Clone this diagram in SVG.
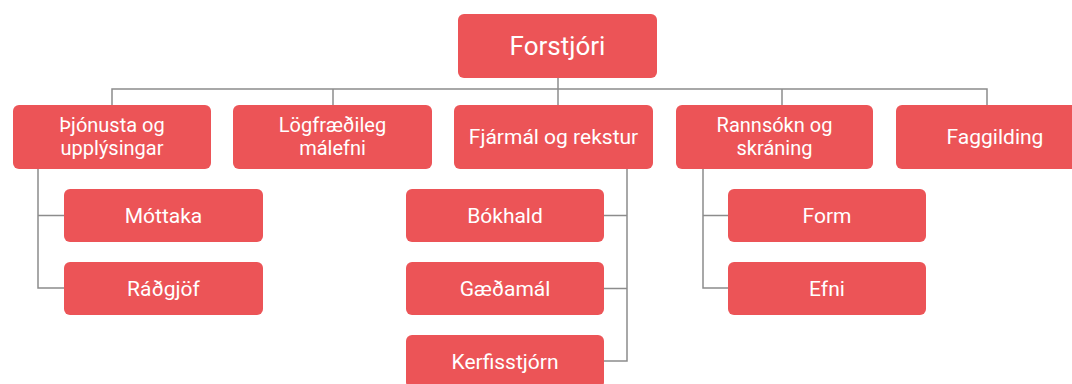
<svg xmlns="http://www.w3.org/2000/svg" width="1072" height="384" viewBox="0 0 1072 384">
  <style>
    .box { fill: #EC5457; }
    .lbl { fill: #ffffff; font-family: Roboto, "Noto Sans", "Liberation Sans", sans-serif; font-size: 21px; text-anchor: middle; }
    .two { font-size: 20px; }
    .root { font-size: 26px; }
    .conn { fill: none; stroke: #8c8c8c; stroke-width: 1.5; }
  </style>
  <rect width="1072" height="384" fill="#ffffff"/>
  <g id="connectors">
    <path class="conn" d="M558 78 V105"/>
    <path class="conn" d="M112 105 V89 H987 V105"/>
    <path class="conn" d="M333 89 V105"/>
    <path class="conn" d="M782 89 V105"/>
    <path class="conn" d="M38 169 V288 H64 M38 215.5 H64"/>
    <path class="conn" d="M627 169 V361 H604 M627 215.5 H604 M627 288.5 H604"/>
    <path class="conn" d="M703 169 V288 H728 M703 215.5 H728"/>
  </g>
  <g id="forstjori">
    <rect class="box" x="458" y="14" width="199" height="64" rx="6"/>
    <text class="lbl root" x="557.5" y="55">Forstjóri</text>
  </g>
  <g id="thjonusta">
    <rect class="box" x="13" y="105" width="198" height="64" rx="6"/>
    <text class="lbl two" x="112" y="132">Þjónusta og</text>
    <text class="lbl two" x="112" y="155">upplýsingar</text>
  </g>
  <g id="logfraedileg">
    <rect class="box" x="233" y="105" width="199" height="64" rx="6"/>
    <text class="lbl two" x="332.5" y="132">Lögfræðileg</text>
    <text class="lbl two" x="332.5" y="155">málefni</text>
  </g>
  <g id="fjarmal">
    <rect class="box" x="454" y="105" width="199" height="64" rx="6"/>
    <text class="lbl" x="553.5" y="144">Fjármál og rekstur</text>
  </g>
  <g id="rannsokn">
    <rect class="box" x="676" y="105" width="197" height="64" rx="6"/>
    <text class="lbl two" x="774.5" y="132">Rannsókn og</text>
    <text class="lbl two" x="774.5" y="155">skráning</text>
  </g>
  <g id="faggilding">
    <rect class="box" x="896" y="105" width="198" height="64" rx="6"/>
    <text class="lbl" x="995" y="144">Faggilding</text>
  </g>
  <g id="mottaka">
    <rect class="box" x="64" y="189" width="199" height="53" rx="6"/>
    <text class="lbl" x="163.5" y="223">Móttaka</text>
  </g>
  <g id="radgjof">
    <rect class="box" x="64" y="262" width="199" height="53" rx="6"/>
    <text class="lbl" x="163.5" y="296">Ráðgjöf</text>
  </g>
  <g id="bokhald">
    <rect class="box" x="406" y="189" width="198" height="53" rx="6"/>
    <text class="lbl" x="505" y="223">Bókhald</text>
  </g>
  <g id="gaedamal">
    <rect class="box" x="406" y="262" width="198" height="53" rx="6"/>
    <text class="lbl" x="505" y="296">Gæðamál</text>
  </g>
  <g id="kerfisstjorn">
    <rect class="box" x="406" y="335" width="198" height="53" rx="6"/>
    <text class="lbl" x="505" y="369">Kerfisstjórn</text>
  </g>
  <g id="form">
    <rect class="box" x="728" y="189" width="198" height="53" rx="6"/>
    <text class="lbl" x="827" y="223">Form</text>
  </g>
  <g id="efni">
    <rect class="box" x="728" y="262" width="198" height="53" rx="6"/>
    <text class="lbl" x="827" y="296">Efni</text>
  </g>
</svg>
